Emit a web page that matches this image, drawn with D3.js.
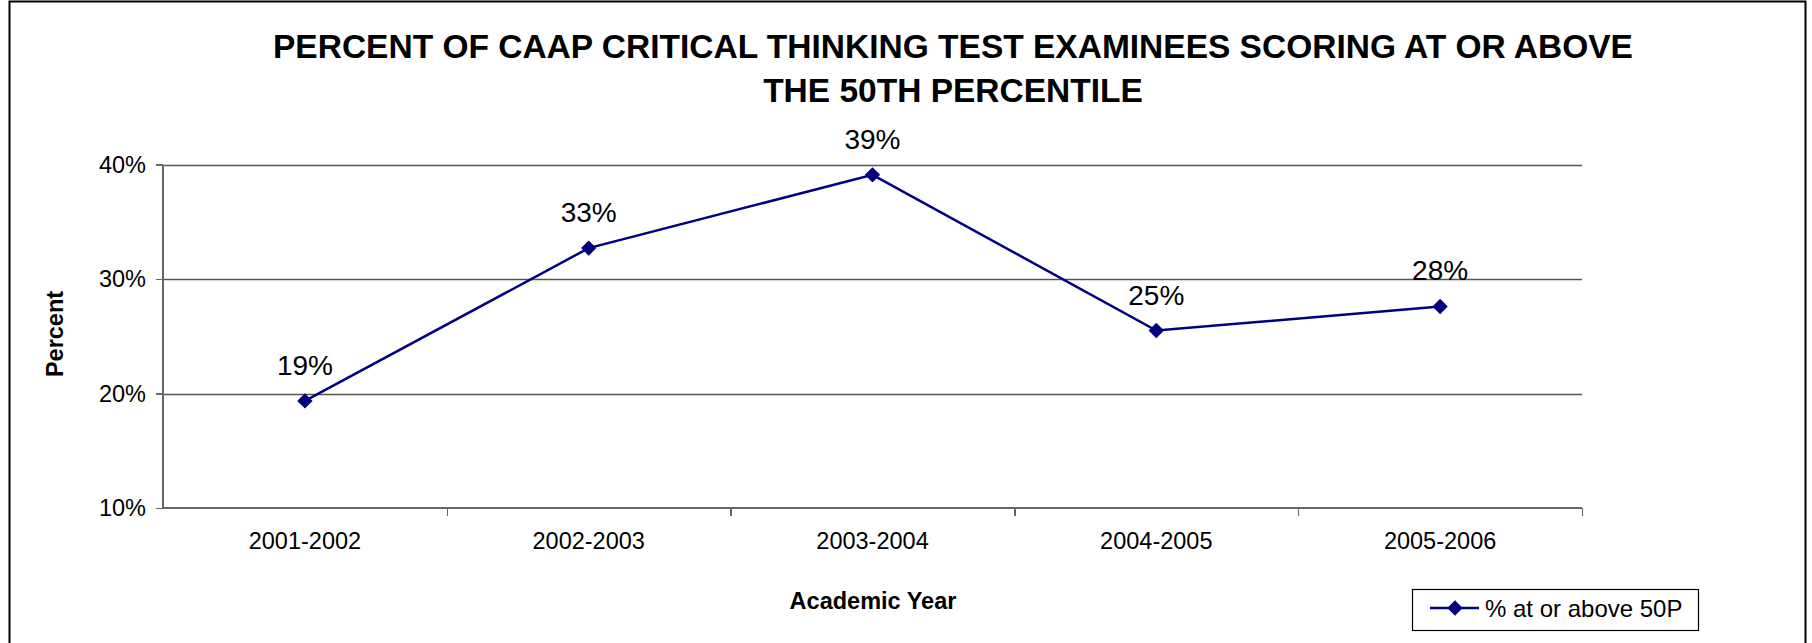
<!DOCTYPE html>
<html>
<head>
<meta charset="utf-8">
<script src="https://cdn.jsdelivr.net/npm/d3@7"></script>
<style>
  body { margin: 0; background: #fff; }
  svg { display: block; font-family: "Liberation Sans", Arial, sans-serif; }
  .axis path, .axis line { stroke: #666; stroke-width: 1.3; shape-rendering: crispEdges; }
  .axis text { fill: #000; font-size: 23.5px; }
</style>
</head>
<body>
<div id="chart"></div>
<script>
// data
var years = ["2001-2002", "2002-2003", "2003-2004", "2004-2005", "2005-2006"];
var pctAbove50 = [19.35, 32.7, 39.1, 25.5, 27.6];
var pctLabels = ["19%", "33%", "39%", "25%", "28%"];
var yTicks = [10, 20, 30, 40];
var titleLines = ["PERCENT OF CAAP CRITICAL THINKING TEST EXAMINEES SCORING AT OR ABOVE", "THE 50TH PERCENTILE"];
var seriesName = "% at or above 50P";

var W = 1812, H = 643;
var plot = {left: 163, right: 1582, top: 164.5, bottom: 508};

var svg = d3.select("#chart").append("svg")
    .attr("width", W)
    .attr("height", H);

// outer frame
svg.append("rect")
    .attr("x", 9.5).attr("y", 1.5)
    .attr("width", 1796).attr("height", 660)
    .attr("fill", "none")
    .attr("stroke", "#000")
    .attr("stroke-width", 2);

// title
svg.append("g").selectAll("text")
    .data(titleLines)
    .enter().append("text")
        .attr("x", 953)
        .attr("y", function(d, i) { return 58 + i * 44; })
        .attr("text-anchor", "middle")
        .style("font-size", "33.5px")
        .style("font-weight", "bold")
        .text(function(d) { return d; });

var x = d3.scaleBand()
    .domain(years)
    .range([plot.left, plot.right]);

var y = d3.scaleLinear()
    .domain([10, 40])
    .range([plot.bottom, plot.top]);

// gridlines
svg.append("g").selectAll("line")
    .data(yTicks.slice(1))
    .enter().append("line")
        .attr("x1", plot.left).attr("x2", plot.right)
        .attr("y1", function(d) { return Math.round(y(d)) + 0.5; })
        .attr("y2", function(d) { return Math.round(y(d)) + 0.5; })
        .attr("stroke", "#555")
        .attr("stroke-width", 1.3);

// y axis
var yAxis = svg.append("g")
    .attr("class", "axis")
    .attr("transform", "translate(" + plot.left + ",0)")
    .call(d3.axisLeft(y).tickValues(yTicks).tickSize(7).tickPadding(10).tickFormat(function(d) { return d + "%"; }));
yAxis.select(".domain").attr("d", "M0," + plot.top + "V" + plot.bottom);

// x axis: labels centred in bands, ticks at band edges
var xEdges = d3.scaleLinear().domain([0, years.length]).range([plot.left, plot.right]);
var xTickAxis = svg.append("g")
    .attr("class", "axis")
    .attr("transform", "translate(0," + plot.bottom + ")")
    .call(d3.axisBottom(xEdges).tickValues(d3.range(1, years.length + 1)).tickSize(8).tickFormat(""));
xTickAxis.select(".domain").attr("d", "M" + plot.left + ",0H" + plot.right);

var xLabelAxis = svg.append("g")
    .attr("class", "axis")
    .attr("transform", "translate(0," + plot.bottom + ")")
    .call(d3.axisBottom(x).tickSize(0).tickPadding(24));
xLabelAxis.select(".domain").remove();

// axis titles
svg.append("text")
    .attr("x", 873).attr("y", 609)
    .attr("text-anchor", "middle")
    .style("font-size", "23.5px").style("font-weight", "bold")
    .text("Academic Year");

svg.append("text")
    .attr("transform", "translate(63,334) rotate(-90)")
    .attr("text-anchor", "middle")
    .style("font-size", "23.5px").style("font-weight", "bold")
    .text("Percent");

// series
var pts = years.map(function(d, i) { return {year: d, v: pctAbove50[i], label: pctLabels[i]}; });
var cx = function(d) { return x(d.year) + x.bandwidth() / 2; };

var line = d3.line()
    .x(cx)
    .y(function(d) { return y(d.v); });

svg.append("path")
    .datum(pts)
    .attr("d", line)
    .attr("fill", "none")
    .attr("stroke", "#000080")
    .attr("stroke-width", 2.5);

var diamond = d3.symbol().type(d3.symbolDiamond2).size(150);

svg.append("g").selectAll("path")
    .data(pts)
    .enter().append("path")
        .attr("d", diamond)
        .attr("transform", function(d) { return "translate(" + cx(d) + "," + y(d.v) + ")"; })
        .attr("fill", "#000080");

svg.append("g").selectAll("text")
    .data(pts)
    .enter().append("text")
        .attr("x", cx)
        .attr("y", function(d) { return y(d.v) - 26; })
        .attr("text-anchor", "middle")
        .style("font-size", "28px")
        .text(function(d) { return d.label; });

// legend
var lg = svg.append("g").attr("transform", "translate(1412,589)");
lg.append("rect")
    .attr("x", 0.5).attr("y", 0.5)
    .attr("width", 286).attr("height", 41)
    .attr("fill", "#fff")
    .attr("stroke", "#000")
    .attr("stroke-width", 1.2);
lg.append("line")
    .attr("x1", 18).attr("x2", 67)
    .attr("y1", 19).attr("y2", 19)
    .attr("stroke", "#000080").attr("stroke-width", 2.5);
lg.append("path")
    .attr("d", diamond)
    .attr("transform", "translate(43,19)")
    .attr("fill", "#000080");
lg.append("text")
    .attr("x", 73).attr("y", 28)
    .style("font-size", "24px")
    .text(seriesName);
</script>
</body>
</html>
